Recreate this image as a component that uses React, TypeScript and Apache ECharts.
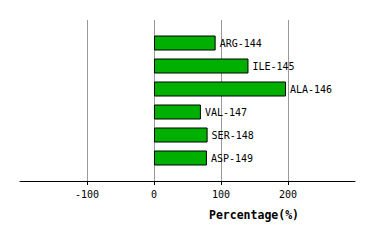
import React, { useEffect, useRef } from "react";
import * as echarts from "echarts";

const categories = ["ARG-144", "ILE-145", "ALA-146", "VAL-147", "SER-148", "ASP-149"];
const values = [92, 141, 197, 70, 80, 79];
const xTicks = [-100, 0, 100, 200];
const axisTitle = "Percentage(%)";

export default function App() {
  const ref = useRef<HTMLDivElement>(null);
  useEffect(() => {
    if (!ref.current) return;
    const chart = echarts.init(ref.current, null, { renderer: "svg" });
    const font = "'DejaVu Sans Mono', monospace";
    const cats = ["", ...categories, ""];
    const data = [null, ...values, null];
    chart.setOption({
      animation: false,
      backgroundColor: "#ffffff",
      grid: [
        { left: 20, right: 19, top: 20, bottom: 59, containLabel: false },
        { left: 20, right: 19, top: 181, height: 4, containLabel: false },
      ],
      xAxis: [
        {
          type: "value",
          gridIndex: 0,
          min: -200,
          max: 300,
          interval: 100,
          axisLine: { show: true, onZero: false, lineStyle: { color: "#000", width: 1 } },
          axisTick: { show: false, customValues: xTicks },
          axisLabel: {
            color: "#000",
            fontFamily: font,
            fontSize: 10,
            margin: 8,
            customValues: xTicks,
          },
          splitLine: {
            show: true,
            lineStyle: { color: "#999", width: 1 },
          },
        },
        {
          type: "value",
          gridIndex: 1,
          min: -200,
          max: 300,
          interval: 100,
          axisLine: { show: false },
          axisTick: { show: false },
          axisLabel: { show: false },
          splitLine: {
            show: true,
            showMinLine: false,
            showMaxLine: false,
            lineStyle: { color: "#000", width: 1 },
          },
        },
      ],
      yAxis: [
        {
          type: "category",
          gridIndex: 0,
          data: cats,
          inverse: true,
          boundaryGap: false,
          axisLine: { show: false },
          axisTick: { show: false },
          axisLabel: { show: false },
          splitLine: { show: false },
        },
        {
          type: "value",
          gridIndex: 1,
          min: 0,
          max: 1,
          show: false,
        },
      ],
      graphic: [
        {
          type: "text",
          left: 209,
          top: 209,
          style: {
            text: axisTitle,
            fill: "#000",
            font: `bold 11.5px ${font}`,
          },
        },
      ],
      series: [
        {
          type: "bar",
          xAxisIndex: 0,
          yAxisIndex: 0,
          data,
          barWidth: 15,
          itemStyle: { color: "#00b000", borderColor: "#000", borderWidth: 1 },
          label: {
            show: true,
            position: "right",
            distance: 4,
            color: "#000",
            fontFamily: font,
            fontSize: 10,
            formatter: (p: any) => cats[p.dataIndex],
          },
        },
      ],
    });
    return () => chart.dispose();
  }, []);
  return <div ref={ref} style={{ width: 374, height: 240, position: "absolute", left: 0, top: 0 }} />;
}
